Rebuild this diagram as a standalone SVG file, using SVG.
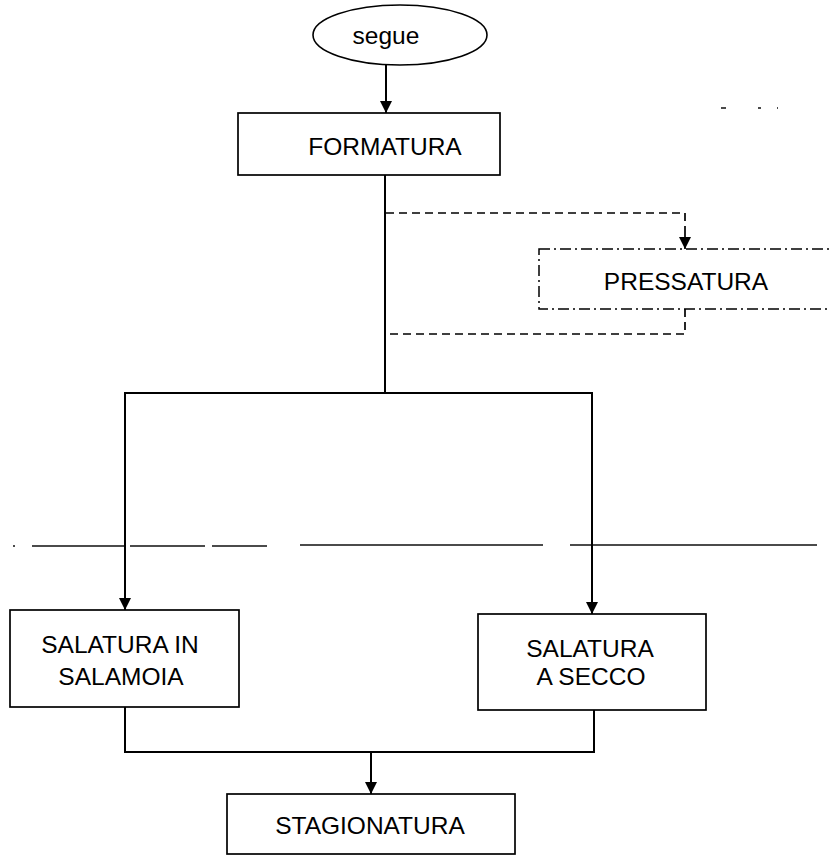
<svg xmlns="http://www.w3.org/2000/svg" width="829" height="856" viewBox="0 0 829 856">
<style>
text{font-family:"Liberation Sans",Arial,sans-serif;font-size:24.5px;fill:#000;text-anchor:middle}
.box{fill:#fff;stroke:#000;stroke-width:1.7}
.dd{fill:#fff;stroke:#000;stroke-width:1.5;stroke-dasharray:11 4 2 4}
.ln{fill:none;stroke:#000;stroke-width:2}
.dash{fill:none;stroke:#000;stroke-width:1.7;stroke-dasharray:8 5}
.scan{fill:none;stroke:#111;stroke-width:1.3}
</style>
<defs>
<marker id="ah" viewBox="0 0 10 10" refX="10" refY="5" markerWidth="14" markerHeight="12" markerUnits="userSpaceOnUse" orient="auto"><path d="M0,0 L10,5 L0,10 z" fill="#000"/></marker>
<marker id="ahs" viewBox="0 0 10 10" refX="10" refY="5" markerWidth="12" markerHeight="12" markerUnits="userSpaceOnUse" orient="auto"><path d="M0,0 L10,5 L0,10 z" fill="#000"/></marker>
</defs>
<rect width="829" height="856" fill="#fff"/>
<g id="scan-marks">
<path class="scan" d="M13,546 h2 M32,546 H125 M130,546 H205 M212,546 H267 M300,545 H543 M570,545 H817"/>
<path class="scan" d="M721,108 h5 M758,108 h3 M777,108 h1"/>
</g>
<g id="connectors">
<line class="ln" x1="386" y1="65" x2="386" y2="113" marker-end="url(#ah)"/>
<polyline class="ln" points="385,175 385,393"/>
<polyline class="ln" points="124,393 593,393"/>
<line class="ln" x1="125" y1="392" x2="125" y2="610" marker-end="url(#ah)"/>
<line class="ln" x1="592" y1="392" x2="592" y2="614" marker-end="url(#ah)"/>
<polyline class="dash" points="386,213 685,213 685,236"/>
<line class="dash" x1="685" y1="234" x2="685" y2="249" marker-end="url(#ahs)"/>
<polyline class="dash" points="685,309 685,334 386,334"/>
<polyline class="ln" points="125,707 125,752 594,752 594,710"/>
<line class="ln" x1="371" y1="752" x2="371" y2="794" marker-end="url(#ah)"/>
</g>
<g id="segue">
<ellipse cx="400" cy="35" rx="87" ry="30" fill="#fff" stroke="#000" stroke-width="1.6"/>
<text x="386" y="44">segue</text>
</g>
<g id="formatura">
<rect class="box" x="238" y="113" width="262" height="62"/>
<text x="385" y="155">FORMATURA</text>
</g>
<g id="pressatura">
<rect class="dd" x="539" y="249" width="300" height="60"/>
<text x="686" y="290">PRESSATURA</text>
</g>
<g id="salatura-salamoia">
<rect class="box" x="10" y="610" width="229" height="97"/>
<text x="120" y="653">SALATURA IN</text>
<text x="121" y="685">SALAMOIA</text>
</g>
<g id="salatura-secco">
<rect class="box" x="478" y="614" width="228" height="96"/>
<text x="590" y="657">SALATURA</text>
<text x="591" y="685">A SECCO</text>
</g>
<g id="stagionatura">
<rect class="box" x="227" y="794" width="288" height="60"/>
<text x="370" y="834">STAGIONATURA</text>
</g>
</svg>
